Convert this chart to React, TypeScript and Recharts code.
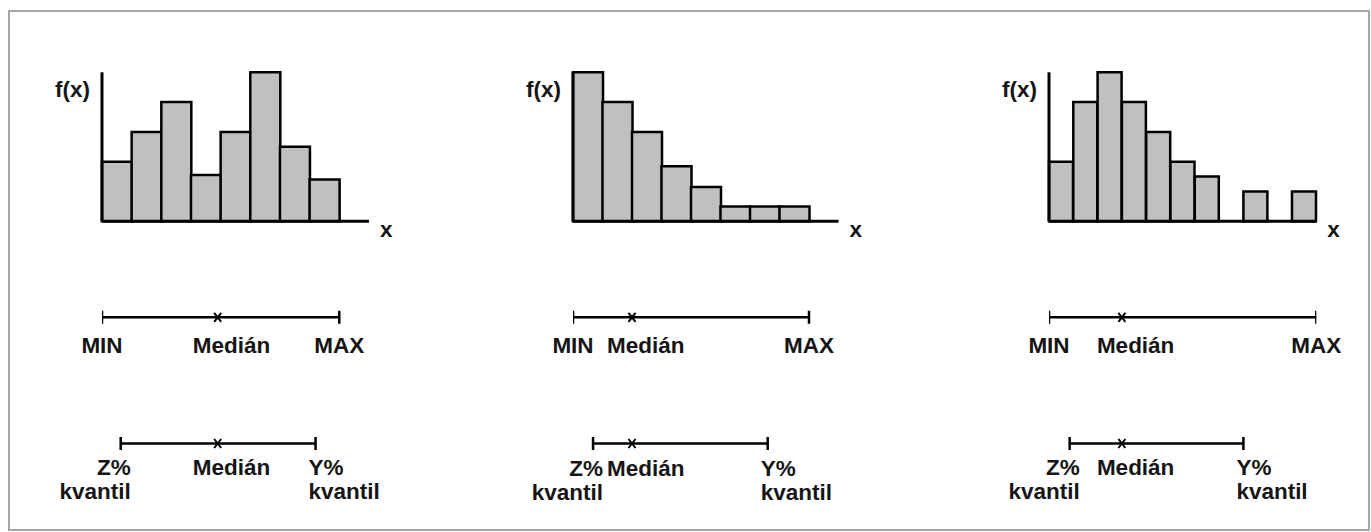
import React from 'react';
import { BarChart, Bar, LineChart, Line, XAxis, YAxis, Label, LabelList } from 'recharts';

// class frequencies f(x), one per class interval (0 = empty class)
const bimodalBins = [4, 6, 8, 3.1, 6, 10, 5, 2.8];
const skewedBins = [10, 8, 6, 3.7, 2.3, 1, 1, 1];
const outlierBins = [4, 8, 10, 8, 6, 4, 3, 0, 2, 0, 2];

// MIN / median / MAX, in class widths from the start of the x axis
const bimodalRange = [0, 3.9, 8];
const skewedRange = [0, 2, 8];
const outlierRange = [0, 3, 11];

// Z% quantile / median / Y% quantile
const bimodalQuantiles = [0.63, 3.9, 7.2];
const skewedQuantiles = [0.68, 2, 6.6];
const outlierQuantiles = [0.85, 3, 8];

const rangeLabels = ['MIN', 'Medián', 'MAX'];
const quantileLabels = ['Z%\nkvantil', 'Medián', 'Y%\nkvantil'];

const FONT = '"Liberation Sans", Arial, Helvetica, sans-serif';
const textStyle: React.CSSProperties = { fontFamily: FONT, fontSize: 22.5, fontWeight: 700, fill: '#151515' };

const MARGIN_LEFT = 69;
const MARGIN_RIGHT = 40;

const panels = [
  { bins: bimodalBins, range: bimodalRange, quantiles: bimodalQuantiles, slots: 9, axisX: 102, band: 29.66 },
  { bins: skewedBins, range: skewedRange, quantiles: skewedQuantiles, slots: 9, axisX: 573.3, band: 29.5 },
  { bins: outlierBins, range: outlierRange, quantiles: outlierQuantiles, slots: 11, axisX: 1049.3, band: 24.3 },
];

const fxLabel = (props: any) => {
  const vb = props.viewBox || { x: MARGIN_LEFT, y: 0, width: 1 };
  return (
    <text x={vb.x + (vb.width || 0) - 12} y={vb.y + 24.5} textAnchor="end" style={textStyle}>
      f(x)
    </text>
  );
};

const xLabel = (props: any) => {
  const vb = props.viewBox || { x: 0, y: 0, width: 0 };
  return (
    <text x={vb.x + vb.width + 11} y={vb.y + 16} textAnchor="start" style={textStyle}>
      x
    </text>
  );
};

const Histogram = ({ bins, slots, band }: { bins: number[]; slots: number; band: number }) => {
  const rows = Array.from({ length: slots }, (_, i) => ({ slot: i, f: i < bins.length ? bins[i] : null }));
  const width = MARGIN_LEFT + 1 + slots * band + MARGIN_RIGHT;
  return (
    <BarChart
      width={width}
      height={230}
      data={rows}
      margin={{ top: 32.3, right: MARGIN_RIGHT, bottom: 47.7, left: MARGIN_LEFT }}
      barCategoryGap={0}
      barGap={0}
    >
      <XAxis dataKey="slot" tick={false} tickLine={false} height={1} axisLine={{ stroke: '#000', strokeWidth: 3 }}>
        <Label content={xLabel} />
      </XAxis>
      <YAxis domain={[0, 10]} tick={false} tickLine={false} width={1} axisLine={{ stroke: '#000', strokeWidth: 3 }}>
        <Label content={fxLabel} />
      </YAxis>
      <Bar dataKey="f" fill="#c0c0c0" stroke="#000" strokeWidth={2.5} isAnimationActive={false} />
    </BarChart>
  );
};

const renderMarker = (props: any) => {
  const { cx, cy, index } = props;
  if (index === 1) {
    return (
      <g key={`m-${index}`} stroke="#000" strokeWidth={2}>
        <line x1={cx - 3.5} y1={cy - 4.5} x2={cx + 3.5} y2={cy + 4.5} />
        <line x1={cx - 3.5} y1={cy + 4.5} x2={cx + 3.5} y2={cy - 4.5} />
      </g>
    );
  }
  return <line key={`m-${index}`} x1={cx} y1={cy - 6.5} x2={cx} y2={cy + 6.5} stroke="#000" strokeWidth={2.5} />;
};

const makeLabel = (row: 'range' | 'quantile') => (props: any) => {
  const { x, y, index, value } = props;
  const lines = String(value).split('\n');
  let anchor: 'start' | 'middle' | 'end' = 'middle';
  let dx = 0;
  if (index === 1) {
    anchor = 'start';
    dx = -25;
  } else if (row === 'quantile') {
    anchor = index === 0 ? 'end' : 'start';
    dx = index === 0 ? 10 : -7;
  }
  const base = row === 'range' ? 36 : 32;
  return (
    <text key={`l-${row}-${index}`} x={x + dx} y={y + base} textAnchor={anchor} style={textStyle}>
      {lines.map((t, i) => (
        <tspan key={i} x={x + dx} dy={i === 0 ? 0 : 24}>
          {t}
        </tspan>
      ))}
    </text>
  );
};

const SummaryLines = ({ range, quantiles, slots, band }: { range: number[]; quantiles: number[]; slots: number; band: number }) => {
  const top = range.map((x, i) => ({ x, y: 1, text: rangeLabels[i] }));
  const bottom = quantiles.map((x, i) => ({ x, y: 0, text: quantileLabels[i] }));
  const width = MARGIN_LEFT + 1 + slots * band + MARGIN_RIGHT;
  return (
    <LineChart width={width} height={220} margin={{ top: 27.3, right: MARGIN_RIGHT, bottom: 66.5, left: MARGIN_LEFT + 1 }}>
      <XAxis type="number" dataKey="x" domain={[0, slots]} hide allowDataOverflow />
      <YAxis type="number" dataKey="y" domain={[0, 1]} hide />
      <Line
        data={top}
        dataKey="y"
        stroke="#000"
        strokeWidth={2.5}
        dot={renderMarker}
        activeDot={false}
        isAnimationActive={false}
      >
        <LabelList dataKey="text" content={makeLabel('range')} />
      </Line>
      <Line
        data={bottom}
        dataKey="y"
        stroke="#000"
        strokeWidth={2.5}
        dot={renderMarker}
        activeDot={false}
        isAnimationActive={false}
      >
        <LabelList dataKey="text" content={makeLabel('quantile')} />
      </Line>
    </LineChart>
  );
};

export default function App() {
  return (
    <div style={{ position: 'absolute', left: 0, top: 0, width: 1371, height: 532, background: '#fff', overflow: 'hidden' }}>
      <div
        style={{
          position: 'absolute',
          left: 8,
          top: 10,
          width: 1362,
          height: 521,
          border: '2px solid #a6a6a6',
          boxSizing: 'border-box',
        }}
      />
      {panels.map((p, i) => (
        <React.Fragment key={i}>
          <div style={{ position: 'absolute', left: p.axisX - MARGIN_LEFT - 1, top: 40 }}>
            <Histogram bins={p.bins} slots={p.slots} band={p.band} />
          </div>
          <div style={{ position: 'absolute', left: p.axisX - MARGIN_LEFT - 1, top: 290 }}>
            <SummaryLines range={p.range} quantiles={p.quantiles} slots={p.slots} band={p.band} />
          </div>
        </React.Fragment>
      ))}
    </div>
  );
}
